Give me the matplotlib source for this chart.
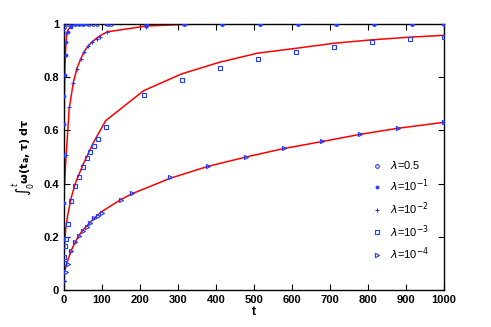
import matplotlib
matplotlib.use("Agg")
import matplotlib.pyplot as plt

# lambda = 0.5 (circles)
t_05 = [0, 1, 10, 20, 30, 40, 50, 65, 78, 88, 115, 125, 215, 315, 415, 515, 615, 715, 815, 915, 1000]
y_05 = [0.965, 0.99, 1, 1, 1, 1, 1, 1, 1, 1, 1, 1, 1, 1, 1, 1, 1, 1, 1, 1, 1]
fit_05 = [0.97, 0.99, 1, 1, 1, 1, 1, 1, 1, 1, 1, 1, 1, 1, 1, 1, 1, 1, 1, 1, 1]

# lambda = 1e-1 (dots)
t_1 = [0, 1, 1.5, 2.5, 4.5, 7, 10, 20, 30, 40, 50, 60, 110, 218, 318, 415, 516, 617, 718, 817, 917, 1000]
y_1 = [0.326, 0.624, 0.73, 0.808, 0.883, 0.933, 0.97, 0.99, 1, 1, 1, 1, 1, 1, 1, 1, 1, 1, 1, 1, 1, 1]
fit_1 = [0.33, 0.6, 0.72, 0.82, 0.9, 0.95, 0.975, 0.995, 1, 1, 1, 1, 1, 1, 1, 1, 1, 1, 1, 1, 1, 1]

# lambda = 1e-2 (plus)
t_2 = [0, 4.5, 14, 25, 35, 45, 54, 64, 75, 86, 95, 114, 217, 317, 417, 517, 617, 717, 817, 917, 1000]
y_2 = [0.507, 0.508, 0.689, 0.777, 0.831, 0.868, 0.895, 0.915, 0.931, 0.944, 0.952, 0.968, 0.99, 1, 1, 1, 1, 1, 1, 1, 1]
fit_2 = [0.34, 0.47, 0.68, 0.78, 0.835, 0.87, 0.897, 0.917, 0.933, 0.946, 0.955, 0.97, 0.992, 0.998, 1, 1, 1, 1, 1, 1, 1]

# lambda = 1e-3 (squares)
t_3 = [0, 1, 2, 5, 10, 20, 30, 40, 50, 60, 70, 80, 90, 110, 210, 310, 410, 510, 610, 710, 810, 910, 1000]
y_3 = [0.10, 0.125, 0.165, 0.19, 0.25, 0.336, 0.391, 0.424, 0.462, 0.495, 0.519, 0.543, 0.566, 0.613,
       0.733, 0.789, 0.833, 0.868, 0.893, 0.913, 0.931, 0.942, 0.95]
fit_3 = [0.10, 0.14, 0.17, 0.23, 0.28, 0.35, 0.40, 0.435, 0.47, 0.50, 0.53, 0.56, 0.585, 0.636,
         0.749, 0.812, 0.856, 0.89, 0.908, 0.927, 0.94, 0.95, 0.957]

# lambda = 1e-4 (triangles)
t_4 = [0, 5, 10, 20, 30, 40, 50, 60, 70, 80, 90, 100, 150, 180, 280, 380, 480, 580, 680, 780, 880, 1000]
y_4 = [0.035, 0.069, 0.098, 0.148, 0.182, 0.203, 0.222, 0.238, 0.253, 0.27, 0.279, 0.29, 0.338, 0.363,
       0.426, 0.466, 0.499, 0.533, 0.56, 0.586, 0.608, 0.63]
fit_4 = [0.06, 0.085, 0.11, 0.15, 0.18, 0.205, 0.225, 0.24, 0.255, 0.27, 0.283, 0.295, 0.34, 0.362,
         0.42, 0.465, 0.5, 0.532, 0.558, 0.585, 0.608, 0.63]

labels = [r"$\lambda$=0.5", r"$\lambda$=10$^{-1}$", r"$\lambda$=10$^{-2}$",
          r"$\lambda$=10$^{-3}$", r"$\lambda$=10$^{-4}$"]

plt.rcParams["font.family"] = ["Liberation Sans", "DejaVu Sans"]
plt.rcParams["mathtext.fontset"] = "dejavusans"

fig = plt.figure(figsize=(4.91, 3.27), dpi=100)
ax = fig.add_axes([0.130, 0.113, 0.774, 0.814])

blue = "#1f3cff"
series = [
    (t_05, y_05, fit_05, dict(marker="o", ms=2.6, mfc="none", mew=0.8)),
    (t_1, y_1, fit_1, dict(marker=".", ms=4.5, mfc=blue, mew=0.5)),
    (t_2, y_2, fit_2, dict(marker="+", ms=3.5, mew=0.8)),
    (t_3, y_3, fit_3, dict(marker="s", ms=2.6, mfc="none", mew=0.8)),
    (t_4, y_4, fit_4, dict(marker=">", ms=3, mfc="none", mew=0.8)),
]

handles = []
for (t, y, fit, style), lab in zip(series, labels):
    ax.plot(t, fit, color="red", lw=1.1, zorder=2)
    h, = ax.plot(t, y, ls="none", color=blue, label=lab, zorder=3, **style)
    handles.append(h)

ax.set_xlim(0, 1000)
ax.set_ylim(0, 1)
ax.set_xticks(range(0, 1001, 100))
ax.set_yticks([0, 0.2, 0.4, 0.6, 0.8, 1])
ax.set_yticklabels(["0", "0.2", "0.4", "0.6", "0.8", "1"])
ax.tick_params(direction="in", top=True, right=True, labelsize=8, length=4, width=0.8)
for lbl in ax.get_xticklabels() + ax.get_yticklabels():
    lbl.set_fontweight("bold")
for s in ax.spines.values():
    s.set_linewidth(1.0)

ax.set_xlabel("t", fontsize=9, fontweight="bold", labelpad=1)
ax.set_ylabel(r"$\int_0^t\mathbf{\omega(t_a,\tau)\ d\tau}$", fontsize=8, labelpad=4)

ax.legend(handles=handles, loc="upper left", bbox_to_anchor=(0.79, 0.52), frameon=False,
          fontsize=8, handlelength=1.0, handletextpad=0.6, labelspacing=0.55, borderpad=0.2)

fig.savefig("out.png", dpi=100)
